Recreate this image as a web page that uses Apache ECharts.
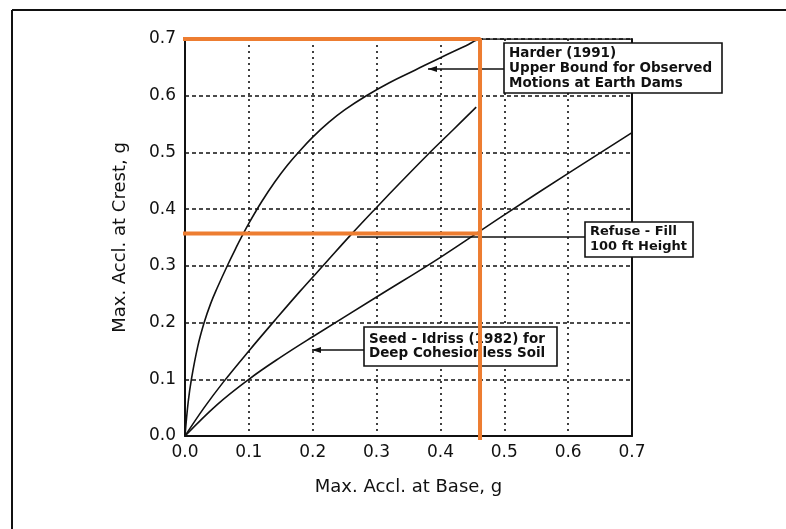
<!DOCTYPE html>
<html>
<head>
<meta charset="utf-8">
<script src="https://cdn.jsdelivr.net/npm/echarts@6/dist/echarts.min.js"></script>
<style>
  html, body { margin: 0; padding: 0; background: #fff; }
  #chart { width: 786px; height: 529px; }
</style>
</head>
<body>
<div id="chart"></div>
<script>
// tick labels
const xTickLabels = ['0.0', '0.1', '0.2', '0.3', '0.4', '0.5', '0.6', '0.7'];
const yTickLabels = ['0.0', '0.1', '0.2', '0.3', '0.4', '0.5', '0.6', '0.7'];

// curves, [base, crest]
const harderCurve = [
    [0, 0], [0.005, 0.06], [0.01, 0.1], [0.02, 0.158], [0.03, 0.2], [0.04, 0.233],
    [0.05, 0.26], [0.067, 0.302], [0.08, 0.332], [0.09, 0.354], [0.1, 0.375],
    [0.12, 0.413], [0.14, 0.447], [0.16, 0.477], [0.18, 0.503], [0.2, 0.527],
    [0.225, 0.553], [0.25, 0.575], [0.284, 0.6], [0.32, 0.623], [0.36, 0.645],
    [0.4, 0.667], [0.44, 0.688], [0.465, 0.7], [0.7, 0.7]
];
const refuseCurve = [
    [0, 0], [0.03, 0.05], [0.06, 0.095], [0.1, 0.15], [0.14, 0.203], [0.18, 0.255],
    [0.22, 0.305], [0.26, 0.355], [0.3, 0.403], [0.34, 0.45], [0.38, 0.496],
    [0.42, 0.54], [0.456, 0.58]
];
const seedIdrissCurve = [
    [0, 0], [0.05, 0.055], [0.1, 0.1], [0.15, 0.139], [0.2, 0.175], [0.3, 0.245],
    [0.4, 0.315], [0.5, 0.39], [0.6, 0.463], [0.7, 0.535]
];

// orange read-off guides drawn on top of the scan
const guideCorner = [[-0.005, 0.7], [0.462, 0.7], [0.462, -0.007]];
const guideLevel = [[-0.005, 0.357], [0.462, 0.357]];

const myChart = echarts.init(document.getElementById('chart'));

const FONT = 'DejaVu Sans';
const INK = '#111';

function curve(name, data) {
    return {
        name: name,
        type: 'line',
        data: data,
        symbol: 'none',
        smooth: 0.4,
        lineStyle: { color: INK, width: 1.6 },
        z: 3
    };
}

function guide(data) {
    return {
        type: 'line',
        data: data,
        symbol: 'none',
        clip: false,
        lineStyle: { color: '#ED7D31', width: 4 },
        z: 20
    };
}

// a boxed label plus its leader line
function note(x, y, w, h, lines, font, lead) {
    const els = [{
        type: 'rect',
        shape: { x: x, y: y, width: w, height: h },
        style: { fill: '#fff', stroke: INK, lineWidth: 1.6 },
        z: 10
    }, {
        type: 'text',
        x: x + 5, y: y + h / 2,
        style: {
            text: lines.join('\n'),
            font: font.weight + ' ' + font.size + 'px "' + FONT + '"',
            lineHeight: font.lh,
            fill: INK,
            verticalAlign: 'middle'
        },
        z: 11
    }];
    if (lead) {
        els.push({
            type: 'line',
            shape: { x1: lead.x1, y1: lead.y, x2: lead.x2, y2: lead.y },
            style: { stroke: INK, lineWidth: 1.6 },
            z: 10
        });
        if (lead.head) {
            els.push({
                type: 'polygon',
                shape: { points: [[lead.x1, lead.y], [lead.x1 + 9, lead.y - 3], [lead.x1 + 9, lead.y + 3]] },
                style: { fill: INK },
                z: 10
            });
        }
    }
    return els;
}

const option = {
    animation: false,
    backgroundColor: '#fff',
    grid: { left: 185, right: 154, top: 39, bottom: 93 },
    xAxis: {
        type: 'value',
        min: 0, max: 0.7, interval: 0.1,
        name: 'Max. Accl. at Base, g',
        nameLocation: 'middle',
        nameGap: 42,
        nameTextStyle: { fontFamily: FONT, fontSize: 18, color: INK },
        axisLine: { lineStyle: { color: INK, width: 2 } },
        axisTick: { show: false },
        axisLabel: {
            fontFamily: FONT, fontSize: 17, color: INK, margin: 8,
            formatter: v => xTickLabels[Math.round(v * 10)]
        },
        splitLine: { show: true, lineStyle: { color: INK, width: 1.6, type: [2, 4] } }
    },
    yAxis: [{
        type: 'value',
        min: 0, max: 0.7, interval: 0.1,
        name: 'Max. Accl. at Crest, g',
        nameLocation: 'middle',
        nameGap: 56,
        nameRotate: 90,
        nameTextStyle: { fontFamily: FONT, fontSize: 18, color: INK },
        axisLine: { show: true, lineStyle: { color: INK, width: 2 } },
        axisTick: { show: false },
        axisLabel: {
            fontFamily: FONT, fontSize: 17, color: INK, margin: 9,
            formatter: v => yTickLabels[Math.round(v * 10)]
        },
        splitLine: { show: true, lineStyle: { color: INK, width: 1.6, type: [4, 3] } }
    }, {
        type: 'value',
        position: 'right',
        min: 0, max: 0.7, interval: 0.1,
        axisLine: { show: true, lineStyle: { color: INK, width: 2 } },
        axisTick: { show: false },
        axisLabel: { show: false },
        splitLine: { show: false }
    }],
    series: [
        curve('Harder (1991)', harderCurve),
        curve('Refuse - Fill', refuseCurve),
        curve('Seed - Idriss (1982)', seedIdrissCurve),
        guide(guideCorner),
        guide(guideLevel)
    ],
    graphic: [
        // scan frame
        { type: 'line', shape: { x1: 12, y1: 10, x2: 786, y2: 10 }, style: { stroke: INK, lineWidth: 2 } },
        { type: 'line', shape: { x1: 12, y1: 10, x2: 12, y2: 529 }, style: { stroke: INK, lineWidth: 2 } },
        ...note(504, 43, 218, 50,
            ['Harder (1991)', 'Upper Bound for Observed', 'Motions at Earth Dams'],
            { weight: 'bold', size: 13.5, lh: 15 },
            { x1: 428, x2: 504, y: 69, head: true }),
        ...note(585, 222, 108, 35,
            ['Refuse - Fill', '100 ft Height'],
            { weight: 'bold', size: 13, lh: 15 },
            { x1: 357, x2: 585, y: 237, head: false }),
        ...note(364, 327, 193, 39,
            ['Seed - Idriss (1982) for', 'Deep Cohesionless Soil'],
            { weight: 'bold', size: 13.5, lh: 14 },
            { x1: 312, x2: 364, y: 350, head: true })
    ]
};

myChart.setOption(option);
</script>
</body>
</html>
